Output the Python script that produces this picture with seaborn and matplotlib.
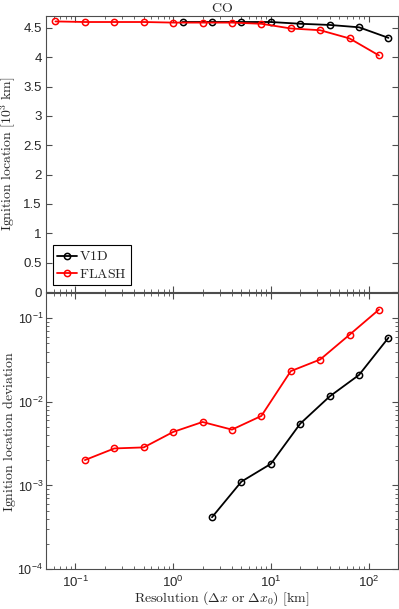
import matplotlib
matplotlib.use("Agg")
import matplotlib.pyplot as plt
import seaborn as sns
import pandas as pd
from matplotlib.ticker import FormatStrFormatter, LogLocator, NullFormatter

# ── data ─────────────────────────────────────────────────────────────────────
v1d_res = [1.25, 2.5, 5, 10, 20, 40, 80, 160]
v1d_loc = [4.60, 4.60, 4.60, 4.60, 4.57, 4.55, 4.51, 4.33]
v1d_dev_res = [2.5, 5, 10, 20, 40, 80, 160]
v1d_dev = [0.000416, 0.00111, 0.00181, 0.00548, 0.0116, 0.0210, 0.0585]

flash_res = [0.0625, 0.125, 0.25, 0.5, 1, 2, 4, 8, 16, 32, 64, 128]
flash_loc = [4.61, 4.60, 4.60, 4.60, 4.59, 4.59, 4.59, 4.57, 4.49, 4.46, 4.32, 4.03]
flash_dev_res = [0.125, 0.25, 0.5, 1, 2, 4, 8, 16, 32, 64, 128]
flash_dev = [0.00201, 0.00277, 0.00285, 0.00436, 0.00574, 0.00465, 0.00678,
             0.0233, 0.0321, 0.0636, 0.127]

y_ticks_top = [0, 0.5, 1, 1.5, 2, 2.5, 3, 3.5, 4, 4.5]

sns.set_style("ticks")
plt.rcParams["font.family"] = ["Liberation Sans", "DejaVu Sans"]
plt.rcParams["font.size"] = 9.5
plt.rcParams["mathtext.fontset"] = "dejavusans"

AXCOL = "#4d4d4d"
LBL = 10
CM = dict(fontsize=LBL, math_fontfamily="cm")

fig = plt.figure(figsize=(3.99, 6.09), dpi=100)
ax1 = fig.add_axes([0.1153, 0.5205, 0.882, 0.453])
ax2 = fig.add_axes([0.1153, 0.0657, 0.882, 0.453])


def _series(ax, x, y, color, label):
    df = pd.DataFrame({"x": x, "y": y})
    sns.lineplot(data=df, x="x", y="y", ax=ax, color=color, marker="o",
                 markersize=4.5, markerfacecolor="none", markeredgecolor=color,
                 markeredgewidth=1.1, linewidth=1.3, label=label, legend=False)


_series(ax1, v1d_res, v1d_loc, "black", r"$\mathrm{V1D}$")
_series(ax1, flash_res, flash_loc, "red", r"$\mathrm{FLASH}$")
_series(ax2, v1d_dev_res, v1d_dev, "black", "V1D")
_series(ax2, flash_dev_res, flash_dev, "red", "FLASH")

for ax in (ax1, ax2):
    ax.set_xscale("log")
    ax.set_xlim(0.05, 200)
    ax.tick_params(which="both", direction="in", top=True, right=True,
                   colors=AXCOL, labelcolor="#262626", labelsize=9.5)
    ax.tick_params(which="major", length=4)
    ax.tick_params(which="minor", length=2)
    ax.tick_params(axis="x", pad=4)
    ax.tick_params(axis="y", pad=3)
    for s in ax.spines.values():
        s.set_color(AXCOL)
        s.set_linewidth(0.8)
    ax.set_xlabel("")

ax1.set_ylim(0, 4.7)
ax1.set_yticks(y_ticks_top)
ax1.yaxis.set_major_formatter(FormatStrFormatter("%g"))
ax1.xaxis.set_major_formatter(NullFormatter())
ax1.xaxis.set_minor_formatter(NullFormatter())
ax1.set_title(r"$\mathrm{CO}$", pad=3, **CM)
ax1.set_ylabel(r"$\mathrm{Ignition\ location\ [10^3\ km]}$", **CM)
ax1.yaxis.set_label_coords(-0.08, 0.5)
leg = ax1.legend(loc="lower left", prop={"size": LBL, "math_fontfamily": "cm"},
                 fancybox=False, edgecolor="black", framealpha=1,
                 handlelength=1.4, handletextpad=0.2, borderpad=0.3,
                 labelspacing=0.25, borderaxespad=0.5)
leg.get_frame().set_linewidth(0.8)

ax2.set_yscale("log")
ax2.set_ylim(1e-4, 0.2)
ax2.yaxis.set_major_locator(LogLocator(base=10, numticks=10))
ax2.tick_params(axis="y", labelsize=9, pad=2)
ax2.set_ylabel(r"$\mathrm{Ignition\ location\ deviation}$", **CM)
ax2.yaxis.set_label_coords(-0.08, 0.5)
ax2.set_xlabel(r"$\mathrm{Resolution\ (\Delta}x\mathrm{\ or\ \Delta}x_0\mathrm{)\ [km]}$",
               labelpad=0, **CM)

fig.savefig("out.png", dpi=100)
